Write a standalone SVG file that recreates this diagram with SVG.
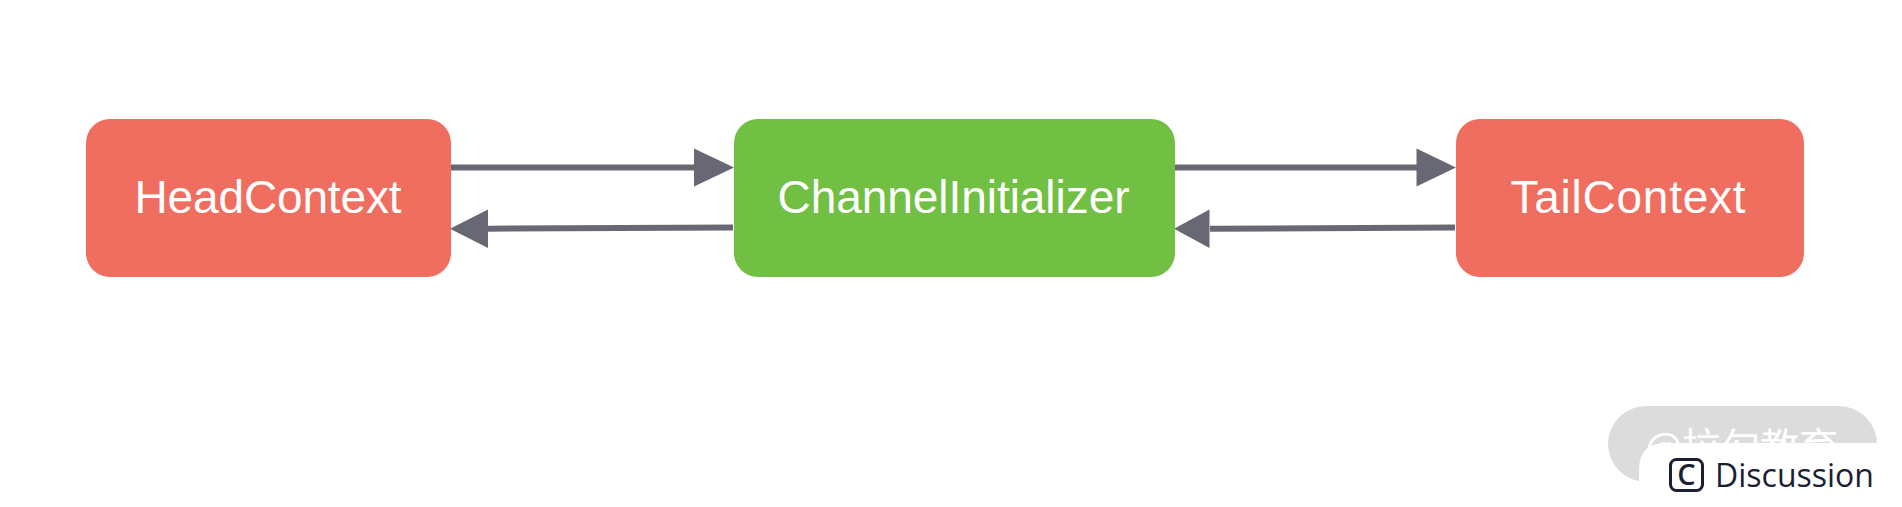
<svg xmlns="http://www.w3.org/2000/svg" width="1902" height="507" viewBox="0 0 1902 507">
  <style>
    .box { stroke: none; }
    .red { fill: #f06e5f; }
    .green { fill: #71c043; }
    .label { font-family: "Liberation Sans", Arial, sans-serif; font-size: 46px; fill: #ffffff; text-anchor: middle; }
    .wire { stroke: #686874; stroke-width: 6; fill: none; }
    .tip { fill: #686874; }
    .ui { font-family: "Open Sans", "Noto Sans", sans-serif; fill: #1c1f33; }
  </style>
  <rect width="1902" height="507" fill="#ffffff"/>
  <g id="connectors">
    <line class="wire" x1="451" y1="167.5" x2="696" y2="167.5"/>
    <polygon class="tip" points="694,148.5 734,167.5 694,186.5"/>
    <line class="wire" x1="733" y1="227.5" x2="488" y2="228.7"/>
    <polygon class="tip" points="488,209.5 450,228.7 488,248"/>
    <line class="wire" x1="1175" y1="167.5" x2="1418" y2="167.5"/>
    <polygon class="tip" points="1416.5,148.5 1456,167.5 1416.5,186.5"/>
    <line class="wire" x1="1455" y1="227.5" x2="1210" y2="228.7"/>
    <polygon class="tip" points="1209.5,209.5 1174,228.7 1209.5,248"/>
  </g>
  <g id="head-context">
    <rect class="box red" x="86" y="119" width="365" height="158" rx="24"/>
    <text class="label" x="268" y="213" textLength="267" lengthAdjust="spacing">HeadContext</text>
  </g>
  <g id="channel-initializer">
    <rect class="box green" x="734" y="119" width="441" height="158" rx="24"/>
    <text class="label" x="953.5" y="213" textLength="352" lengthAdjust="spacing">ChannelInitializer</text>
  </g>
  <g id="tail-context">
    <rect class="box red" x="1456" y="119" width="348" height="158" rx="24"/>
    <text class="label" x="1628" y="213" textLength="235" lengthAdjust="spacing">TailContext</text>
  </g>
  <g id="watermark">
    <rect x="1608" y="406" width="269" height="76" rx="38" fill="#dcdcdc"/>
    <text x="1645" y="461" font-family="'Noto Sans CJK SC', sans-serif" font-size="39" fill="#ffffff">@拉勾教育</text>
  </g>
  <g id="discussion">
    <path d="M1639 507V470Q1639 443 1666 443H1902V507Z" fill="#ffffff"/>
    <rect x="1670.5" y="459.5" width="32" height="31" rx="6" fill="none" stroke="#1c1f33" stroke-width="3"/>
    <text class="ui" x="1686.5" y="485" font-size="29" font-weight="600" text-anchor="middle">C</text>
    <text class="ui" x="1715" y="487" font-size="32">Discussion</text>
  </g>
</svg>
